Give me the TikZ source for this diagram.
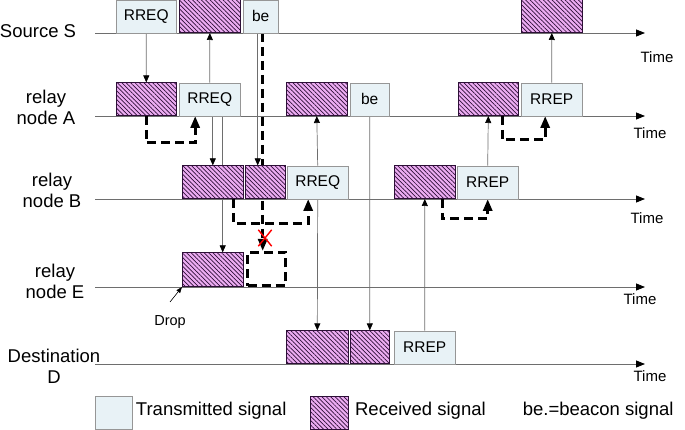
\documentclass[tikz,border=0pt]{standalone}
\usepackage{fontspec}
\setmainfont{Liberation Sans}
\usetikzlibrary{
		positioning,
		arrows.meta,
		patterns.meta,
		shapes.misc,
		backgrounds
	}
\definecolor{txfill}{RGB}{232,242,246}
\definecolor{txdraw}{RGB}{150,150,150}
\definecolor{rxfill}{RGB}{236,172,242}
\definecolor{rxhatch}{RGB}{45,15,55}
\definecolor{axisgray}{RGB}{110,110,110}
\tikzset{
		>=stealth,
		txbox/.style={draw=txdraw, fill=txfill, anchor=south west, inner sep=0pt, minimum height=33pt, font=\fontsize{15.5}{18}\selectfont},
		rxbox/.style={draw=rxhatch, line width=0.6pt, preaction={fill=rxfill}, pattern={Lines[angle=-45,distance=3.1pt,line width=0.7pt]}, pattern color=rxhatch, anchor=south west, inner sep=0pt, minimum height=33pt},
		waitbox/.style={draw, line width=3pt, dash pattern=on 9pt off 5pt, anchor=south west, inner sep=0pt, minimum height=33pt},
		sigline/.style={draw=axisgray, line width=0.7pt, -{Triangle[length=7pt,width=6pt,black]}},
		procline/.style={line width=3pt, dash pattern=on 9pt off 5pt, -{Triangle[length=12pt,width=9pt]}},
		timeaxis/.style={draw=axisgray, line width=0.8pt, -{Triangle[length=9pt,width=7pt,black]}},
		rowlabel/.style={align=center, font=\fontsize{18.5}{21}\selectfont},
		timelabel/.style={font=\fontsize{15}{18}\selectfont},
		legendtext/.style={font=\fontsize{18.5}{21}\selectfont}
	}

\begin{document}
\begin{tikzpicture}[x=1pt, y=-1pt]
		\useasboundingbox (0,0) rectangle (685,430);
		% row labels
		\node[rowlabel] (labS) at (38,31) {Source S};
		\node[rowlabel] (labA) at (46,107) {relay\\node A};
		\node[rowlabel] (labB) at (52,190) {relay\\node B};
		\node[rowlabel] (labE) at (55,281) {relay\\node E};
		\node[rowlabel] (labD) at (54,366) {Destination\\D};
		% source S
		\node[txbox, minimum width=60pt] (sRREQ) at (116,33) {RREQ};
		\node[rxbox, minimum width=61pt] (sRecv) at (179,33) {};
		\node[txbox, minimum width=35pt] (sBe) at (243,33) {be};
		\node[rxbox, minimum width=61pt] (sRecv2) at (521,33) {};
		% relay node A
		\node[rxbox, minimum width=60pt] (aRecv) at (116,116) {};
		\node[txbox, minimum width=61pt] (aRREQ) at (179,116) {RREQ};
		\node[rxbox, minimum width=61pt] (aRecv2) at (286,116) {};
		\node[txbox, minimum width=39pt] (aBe) at (350,116) {be};
		\node[rxbox, minimum width=60pt] (aRecv3) at (458,116) {};
		\node[txbox, minimum width=61pt] (aRREP) at (521,116) {RREP};
		% relay node B
		\node[rxbox, minimum width=61pt] (bRecv) at (182,199) {};
		\node[rxbox, minimum width=40pt] (bRecv2) at (245,199) {};
		\node[txbox, minimum width=61pt] (bRREQ) at (287,199) {RREQ};
		\node[rxbox, minimum width=61pt] (bRecv3) at (394,199) {};
		\node[txbox, minimum width=61pt] (bRREP) at (457,199) {RREP};
		% relay node E
		\node[rxbox, minimum width=61pt, minimum height=34pt] (eRecv) at (182,287) {};
		\node[waitbox, minimum width=38pt] (eWait) at (246,287) {};
		% destination D
		\node[rxbox, minimum width=62pt] (dRecv) at (286,364) {};
		\node[rxbox, minimum width=39pt] (dRecv2) at (350,364) {};
		\node[txbox, minimum width=61pt] (dRREP) at (394,364) {RREP};

		\node[cross out, draw=red, line width=1.4pt, minimum width=12pt, minimum height=15pt, inner sep=0pt] (lost) at (265,238) {};
		\node[font=\fontsize{14.5}{17}\selectfont] (drop) at (170,322) {Drop};
		\draw[line width=0.6pt, -{Triangle[length=6pt,width=4.5pt]}] ([yshift=10pt]drop.north) -- (eRecv.south west);

		\begin{pgfonlayer}{background}
		\foreach \n/\y/\tx/\ty in {s/33/657/57, a/116/650/133, b/199/647/218, e/287/640/299, d/364/650/376}{
			\coordinate (\n0) at (95,\y);
			\coordinate (\n1) at (645,\y);
			\draw[timeaxis] (\n0) -- (\n1);
			\node[timelabel] (time\n) at (\tx,\ty) {Time};
		}
		\draw[sigline] (sRREQ.south) -- (aRecv.north);
		\draw[sigline] (aRREQ.north) -- (sRecv.south);
		\draw[sigline] (aRREQ.south -| bRecv.north) -- (bRecv.north);
		\draw[sigline] ([xshift=13pt]aRREQ.south) -- ([xshift=13pt]aRREQ.south |- eRecv.north);
		\draw[sigline] ([xshift=-3pt]sBe.south) -- ([xshift=-3pt]sBe.south |- bRecv2.north);
		\draw[procline] ([xshift=2pt]sBe.south) -- ([xshift=2pt]sBe.south |- eWait.north);
		\draw[sigline] (bRREQ.north) -- (aRecv2.south);
		\draw[sigline] (bRREQ.south) -- (dRecv.north);
		\draw[sigline] (aBe.south) -- (dRecv2.north);
		\draw[sigline] (aRREP.north) -- (sRecv2.south);
		\draw[sigline] (bRREP.north) -- (aRecv3.south);
		\draw[sigline] (dRREP.north) -- (bRecv3.south);
		% processing delays
		\draw[procline] (aRecv.south) -- ++(0,27) -| ([xshift=-14.5pt]aRREQ.south);
		\draw[procline] ([xshift=21pt]bRecv.south) -- ++(0,25) -| ([xshift=-9.5pt]bRREQ.south);
		\draw[procline] ([xshift=14pt]aRecv3.south) -- ++(0,24) -| ([xshift=-6.5pt]aRREP.south);
		\draw[procline] ([xshift=17.5pt]bRecv3.south) -- ++(0,20) -| (bRREP.south);
		\end{pgfonlayer}

		% legend
		\node[txbox, minimum width=37pt] (legTx) at (95,429.5) {};
		\node[legendtext, right=0pt of legTx, yshift=2pt] (legTxText) {Transmitted signal};
		\node[rxbox, minimum width=38pt] (legRx) at (310,429.5) {};
		\node[legendtext, right=3pt of legRx, yshift=2pt] (legRxText) {Received signal};
		\node[legendtext, right=30pt of legRxText] (legBe) {be.=beacon signal};
	\end{tikzpicture}
\end{document}
